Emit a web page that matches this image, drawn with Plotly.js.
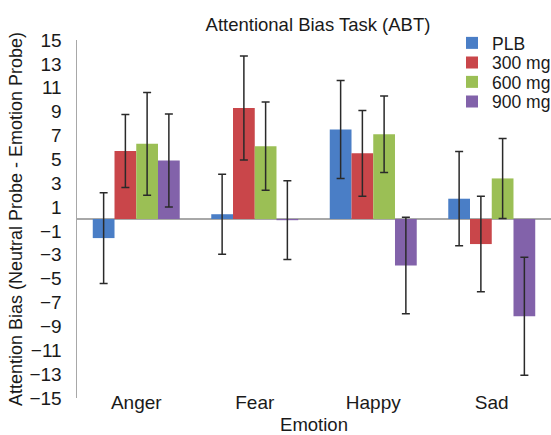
<!DOCTYPE html>
<html>
<head>
<meta charset="utf-8">
<script src="https://cdn.plot.ly/plotly-3.0.1.min.js"></script>
<style>html,body{margin:0;padding:0;background:#fff;}#chart{width:551px;height:435px;}</style>
</head>
<body>
<div id="chart"></div>
<script>
var categories = ["Anger", "Fear", "Happy", "Sad"];
var seriesNames = ["PLB", "300 mg", "600 mg", "900 mg"];
var plbMean = [-1.6, 0.4, 7.5, 1.7];
var plbErr = [3.8, 3.35, 4.1, 3.95];
var mg300Mean = [5.7, 9.3, 5.5, -2.1];
var mg300Err = [3.05, 4.35, 3.6, 4.0];
var mg600Mean = [6.3, 6.1, 7.1, 3.4];
var mg600Err = [4.3, 3.7, 3.2, 3.35];
var mg900Mean = [4.9, -0.1, -3.9, -8.15];
var mg900Err = [3.9, 3.3, 4.05, 4.95];
var yTickVals = [-15, -13, -11, -9, -7, -5, -3, -1, 1, 3, 5, 7, 9, 11, 13, 15];

var colors = ["#4a7ec6", "#c9464a", "#9bbf55", "#8262aa"];
var means = [plbMean, mg300Mean, mg600Mean, mg900Mean];
var errs = [plbErr, mg300Err, mg600Err, mg900Err];
var legendIds = ["legend", "legend2", "legend3", "legend4"];
var legendRowY = [43, 62.5, 82, 101.5];

var font = "Liberation Sans, Arial, sans-serif";
var traces = seriesNames.map(function (name, i) {
  return {
    type: "bar",
    name: name,
    x: categories,
    y: means[i],
    marker: {color: colors[i]},
    error_y: {type: "data", array: errs[i], visible: true, color: "#2a2a2a", thickness: 1.5, width: 4},
    legend: legendIds[i]
  };
});

var layout = {
  width: 551,
  height: 435,
  margin: {l: 77, r: 0, t: 40, b: 37, autoexpand: false},
  paper_bgcolor: "#ffffff",
  plot_bgcolor: "#ffffff",
  font: {family: font, size: 18.5, color: "#1a1a1a"},
  barmode: "group",
  bargap: 0.266,
  bargroupgap: 0,
  title: {text: "Attentional Bias Task (ABT)", x: 318 / 551, xanchor: "center", xref: "container",
          y: 1 - 25 / 435, yanchor: "middle", yref: "container", font: {size: 18.5}},
  xaxis: {
    type: "category",
    showline: false, showgrid: false, zeroline: false, ticks: "",
    tickfont: {size: 19},
    ticklabelstandoff: -9,
    automargin: false,
    title: {text: "Emotion", font: {size: 18.5}, standoff: 16}
  },
  yaxis: {
    range: [-15, 15],
    tickmode: "array", tickvals: yTickVals,
    showgrid: false, showline: true, linecolor: "#a8a8a8", linewidth: 1.5,
    zeroline: true, zerolinecolor: "#a8a8a8", zerolinewidth: 1.5,
    ticks: "", tickfont: {size: 19}, ticklabelstandoff: 10,
    automargin: false,
    title: {text: "Attention Bias (Neutral Probe - Emotion Probe)", font: {size: 18}, standoff: 2}
  },
  showlegend: true
};
legendIds.forEach(function (id, i) {
  layout[id] = {
    x: 452 / 551, xref: "container", xanchor: "left",
    y: 1 - legendRowY[i] / 435, yref: "container", yanchor: "middle",
    bgcolor: "rgba(0,0,0,0)", borderwidth: 0,
    font: {size: 17.5}
  };
});

Plotly.newPlot("chart", traces, layout, {displayModeBar: false, staticPlot: true});
</script>
</body>
</html>
